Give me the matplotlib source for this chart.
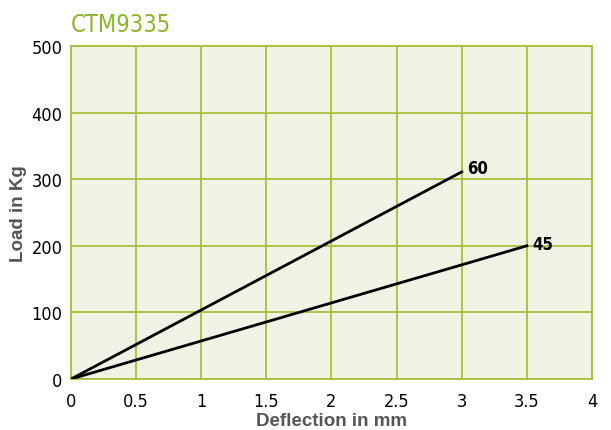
import matplotlib
matplotlib.use("Agg")
import matplotlib.pyplot as plt

plt.rcParams['font.family'] = ['DejaVu Sans']

# Load curves (deflection mm -> load kg)
deflection_60 = [0, 3]
load_60 = [0, 311]
deflection_45 = [0, 3.5]
load_45 = [0, 200]
labels = ["60", "45"]

x_ticks = [0, 0.5, 1, 1.5, 2, 2.5, 3, 3.5, 4]
x_tick_labels = ["0", "0.5", "1", "1.5", "2", "2.5", "3", "3.5", "4"]
y_ticks = [0, 100, 200, 300, 400, 500]

green = "#a3c13a"

fig = plt.figure(figsize=(6.11, 4.31), dpi=100)
ax = fig.add_axes([0.1162, 0.1183, 0.8527, 0.7727])
ax.set_facecolor("#f0f2e4")

ax.plot(deflection_60, load_60, color="black", linewidth=2, zorder=3)
ax.plot(deflection_45, load_45, color="black", linewidth=2, zorder=3)
ax.text(deflection_60[-1] + 0.04, load_60[-1] + 6, labels[0], fontsize=12,
        fontweight="bold", va="center", ha="left", fontstretch="condensed")
ax.text(deflection_45[-1] + 0.04, load_45[-1] + 2, labels[1], fontsize=12,
        fontweight="bold", va="center", ha="left", fontstretch="condensed")

ax.set_xlim(0, 4)
ax.set_ylim(0, 500)
ax.set_xticks(x_ticks)
ax.set_xticklabels(x_tick_labels)
ax.set_yticks(y_ticks)
ax.tick_params(length=0, labelsize=13)
ax.tick_params(axis="x", pad=9)
ax.tick_params(axis="y", pad=6)
for lab in ax.get_xticklabels() + ax.get_yticklabels():
    lab.set_fontstretch("condensed")
ax.grid(True, color=green, linewidth=1.3)
for s in ax.spines.values():
    s.set_color(green)
    s.set_linewidth(1.3)

ax.set_xlabel("Deflection in mm", fontsize=13.5, fontweight="bold",
              color="#555555", family="Liberation Sans", fontstretch="normal",
              labelpad=2)
ax.set_ylabel("Load in Kg", fontsize=13.5, fontweight="bold",
              color="#555555", family="Liberation Sans", fontstretch="normal",
              labelpad=3)

fig.text(0.116, 0.925, "CTM9335", fontsize=17, color="#8ab52a",
         fontstretch="condensed")

fig.savefig("out.png", dpi=100)
